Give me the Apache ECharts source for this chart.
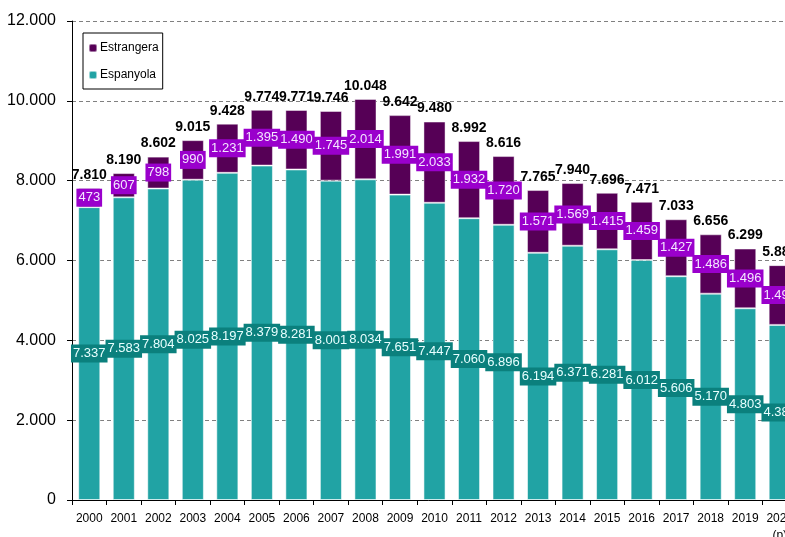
<!DOCTYPE html>
<html>
<head>
<meta charset="utf-8">
<script src="https://cdn.jsdelivr.net/npm/echarts@6/dist/echarts.min.js"></script>
<style>
  html, body { margin: 0; padding: 0; background: #fff; }
  #main { width: 785px; height: 537px; }
</style>
</head>
<body>
<div id="main"></div>
<script>
// anys
var years = ['2000', '2001', '2002', '2003', '2004', '2005', '2006', '2007', '2008', '2009', '2010',
  '2011', '2012', '2013', '2014', '2015', '2016', '2017', '2018', '2019', '2020\n(p)'];
// nacionalitat espanyola
var espanyola = [7337, 7583, 7804, 8025, 8197, 8379, 8281, 8001, 8034, 7651, 7447,
  7060, 6896, 6194, 6371, 6281, 6012, 5606, 5170, 4803, 4387];
// nacionalitat estrangera
var estrangera = [473, 607, 798, 990, 1231, 1395, 1490, 1745, 2014, 1991, 2033,
  1932, 1720, 1571, 1569, 1415, 1459, 1427, 1486, 1496, 1497];

var totals = espanyola.map(function (v, i) { return v + estrangera[i]; });

function fmt(v) {
  return String(v).replace(/\B(?=(\d{3})+(?!\d))/g, '.');
}

var font = 'Liberation Sans, Arial, sans-serif';
var chart = echarts.init(document.getElementById('main'));
chart.setOption({
  animation: false,
  textStyle: { fontFamily: font },
  grid: { left: 72, right: -12, top: 21, bottom: 37, outerBoundsMode: 'none', containLabel: false },
  legend: {
    data: ['Estrangera', 'Espanyola'],
    orient: 'vertical',
    left: 83, top: 33,
    borderColor: '#000', borderWidth: 1,
    padding: [9, 4, 8, 5],
    itemWidth: 8, itemHeight: 8, itemGap: 15,
    textStyle: { fontSize: 12, color: '#000', padding: [0, 0, 0, -2] },
    backgroundColor: '#fff'
  },
  xAxis: {
    type: 'category',
    data: years,
    axisLine: { lineStyle: { color: '#000', width: 1 } },
    axisTick: { show: true, length: 5, lineStyle: { color: '#000' } },
    axisLabel: { color: '#000', fontSize: 12, margin: 10, lineHeight: 17, interval: 0 }
  },
  yAxis: {
    type: 'value',
    min: 0, max: 12000, interval: 2000,
    axisLine: { show: true, lineStyle: { color: '#000', width: 1 } },
    axisTick: { show: true, length: 5, lineStyle: { color: '#000' } },
    axisLabel: { color: '#000', fontSize: 16, margin: 16, formatter: fmt },
    splitLine: { lineStyle: { color: '#808080', type: [4, 3], width: 1 } }
  },
  series: [
    {
      name: 'Total',
      type: 'bar',
      data: totals,
      barWidth: '64%',
      barGap: '-100%',
      itemStyle: { color: 'rgba(0,0,0,0)' },
      silent: true,
      z: 1,
      label: {
        show: true, position: 'top', distance: 6,
        color: '#000', fontWeight: 'bold', fontSize: 14,
        formatter: function (p) { return fmt(p.value); }
      }
    },
    {
      name: 'Espanyola',
      type: 'bar',
      stack: 'total',
      data: espanyola,
      barWidth: '64%',
      itemStyle: { color: '#21a3a4', borderColor: 'rgba(255,255,255,0.55)', borderWidth: 1 },
      z: 2,
      label: {
        show: true, position: 'inside',
        color: '#e8ffff', fontSize: 13,
        backgroundColor: '#0b807d', padding: [3, 2, 2, 2],
        formatter: function (p) { return fmt(p.value); }
      }
    },
    {
      name: 'Estrangera',
      type: 'bar',
      stack: 'total',
      data: estrangera,
      barWidth: '64%',
      itemStyle: { color: '#560056', borderColor: 'rgba(255,255,255,0.45)', borderWidth: 1 },
      z: 2,
      label: {
        show: true, position: 'inside',
        color: '#f4e6ff', fontSize: 13,
        backgroundColor: '#9a00cc', padding: [3, 2, 2, 2],
        formatter: function (p) { return fmt(p.value); }
      }
    }
  ]
});
</script>
</body>
</html>
